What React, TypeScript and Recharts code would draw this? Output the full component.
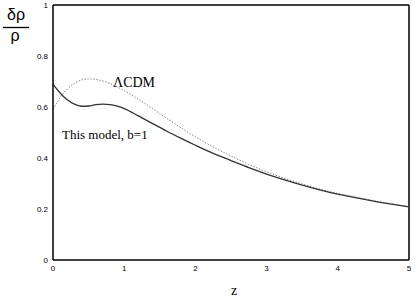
import React from "react";
import { LineChart, Line, XAxis, YAxis, ReferenceLine } from "recharts";

const zValues = [0, 0.1, 0.2, 0.3, 0.4, 0.5, 0.6, 0.7, 0.8, 0.9, 1.0, 1.2, 1.4, 1.6, 1.8, 2.0, 2.25, 2.5, 2.75, 3.0, 3.5, 4.0, 4.5, 5.0];
const thisModel = [0.69, 0.655, 0.628, 0.611, 0.603, 0.604, 0.609, 0.611, 0.609, 0.603, 0.594, 0.565, 0.535, 0.505, 0.477, 0.45, 0.418, 0.39, 0.362, 0.337, 0.294, 0.258, 0.231, 0.208];
const lcdm = [0.59, 0.637, 0.67, 0.693, 0.706, 0.71, 0.708, 0.702, 0.692, 0.679, 0.664, 0.63, 0.593, 0.555, 0.518, 0.483, 0.443, 0.408, 0.375, 0.346, 0.298, 0.261, 0.233, 0.209];
const xTicks = [0, 1, 2, 3, 4, 5];
const yTicks = [0, 0.2, 0.4, 0.6, 0.8, 1];

const data = zValues.map((z, i) => ({ z, model: thisModel[i], lcdm: lcdm[i] }));

const sans = "'Liberation Sans', Arial, Helvetica, sans-serif";
const serif = "'Liberation Serif', 'Times New Roman', serif";

export default function App() {
  return (
    <div style={{ position: "absolute", left: 0, top: 0, width: 415, height: 306, background: "#fff" }}>
      <LineChart width={415} height={306} data={data} margin={{ top: 5, right: 6, bottom: 0, left: 0 }}>
        <XAxis
          dataKey="z"
          type="number"
          domain={[0, 5]}
          ticks={xTicks}
          height={46}
          tickLine={false}
          tickSize={0}
          tickMargin={5}
          axisLine={{ stroke: "#000", strokeWidth: 1.5 }}
          tick={{ fill: "#000", fontSize: 8, fontFamily: sans }}
        />
        <YAxis
          type="number"
          domain={[0, 1]}
          ticks={yTicks}
          width={53}
          tickLine={false}
          tickSize={0}
          tickMargin={5}
          axisLine={{ stroke: "#000", strokeWidth: 1.5 }}
          tick={{ fill: "#000", fontSize: 8, fontFamily: sans }}
        />
        <ReferenceLine y={1} stroke="#000" strokeWidth={1.5} />
        <ReferenceLine x={5} stroke="#000" strokeWidth={1.5} />
        <Line
          type="monotone"
          dataKey="lcdm"
          stroke="#8a8a8a"
          strokeWidth={1}
          strokeDasharray="1.5 1.5"
          dot={false}
          isAnimationActive={false}
        />
        <Line
          type="monotone"
          dataKey="model"
          stroke="#333"
          strokeWidth={1.3}
          dot={false}
          isAnimationActive={false}
        />
      </LineChart>
      <svg width={415} height={306} style={{ position: "absolute", left: 0, top: 0, pointerEvents: "none" }}>
        <text x={16} y={20} textAnchor="middle" fontFamily={sans} fontSize={16} fill="#000">δρ</text>
        <line x1={3} x2={29} y1={27.5} y2={27.5} stroke="#000" strokeWidth={1.3} />
        <text x={15} y={41} textAnchor="middle" fontFamily={sans} fontSize={16} fill="#000">ρ</text>
        <text x={113} y={87} fontFamily={serif} fontSize={14} fill="#000">ΛCDM</text>
        <text x={62} y={139} fontFamily={serif} fontSize={13} fill="#000">This model, b=1</text>
        <text x={234} y={295} textAnchor="middle" fontFamily={serif} fontSize={14} fill="#000">z</text>
      </svg>
    </div>
  );
}
